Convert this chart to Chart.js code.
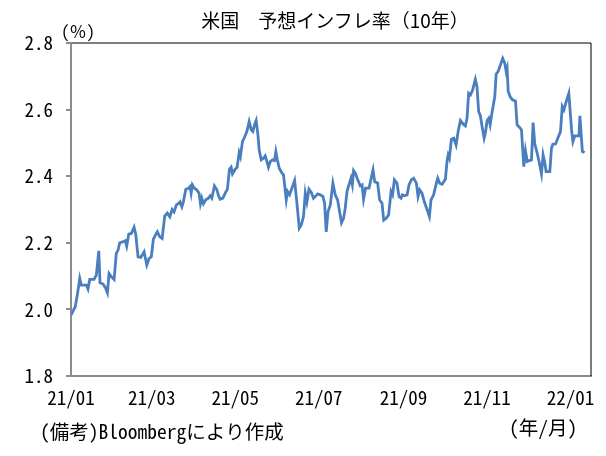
<!DOCTYPE html>
<html>
<head>
<meta charset="utf-8">
<script src="https://cdn.jsdelivr.net/npm/chart.js@4"></script>
<style>
  body { margin: 0; background: #fff; }
  #wrap { position: relative; width: 606px; height: 456px; }
  .lbl { position: absolute; white-space: nowrap; color: #000; line-height: 1; font-family: "Noto Sans Mono CJK JP", "Noto Sans CJK JP", monospace; }
  #title { left: 335px; top: 10px; transform: translateX(-50%); font-size: 19px; font-family: "Noto Sans CJK JP", sans-serif; }
  #unit { left: 61px; top: 22px; font-size: 17px; }
  #note { left: 40px; top: 421px; font-size: 19.5px; }
  #ym { left: 509px; top: 417px; font-size: 19.5px; }
</style>
</head>
<body>
<div id="wrap">
  <canvas id="myChart" width="606" height="456"></canvas>
  <div class="lbl" id="title">米国　予想インフレ率（10年）</div>
  <div class="lbl" id="unit">(％)</div>
  <div class="lbl" id="note">(備考)Bloombergにより作成</div>
  <div class="lbl" id="ym">(年/月)</div>
</div>
<script>
// 日数（2021/01/01からの経過日数）
const dias = [
  0, 3.1, 4.6, 6.4, 7.5, 11.2, 12.4, 13.7, 16.8, 18.5, 20.3, 21.2, 23.4, 25.1, 26.6, 27.8, 29.5, 31.5, 33.1, 34.4,
  35.6, 38.0, 39.7, 40.7, 42.2, 44.1, 46.1, 47.3, 49.0, 51.0, 53.4, 55.4, 57.1, 58.7, 60.2, 61.7, 63.1, 64.9, 66.6, 68.5,
  70.4, 72.2, 73.9, 75.3, 77.0, 78.3, 79.7, 81.0, 82.1, 83.9, 85.8, 87.0, 87.8, 88.7, 90.2, 91.9, 93.6, 94.6, 95.6, 96.8,
  98.5, 100.4, 101.7, 102.9, 104.8, 106.6, 107.8, 109.0, 111.0, 112.7, 114.3, 115.8, 117.0, 118.0, 120.0, 121.4, 122.9, 123.8, 125.3, 126.8,
  128.5, 130.2, 131.7, 132.9, 134.1, 135.3, 136.6, 137.5, 139.0, 140.7, 141.9, 143.2, 144.3, 145.6, 147.3, 148.7, 149.7, 150.7, 152.2, 154.1,
  155.3, 157.3, 158.2, 159.7, 161.4, 163.4, 165.1, 166.8, 168.3, 169.9, 171.2, 172.4, 173.9, 175.6, 177.2, 179.0, 180.2, 182.1, 184.1, 185.3,
  186.5, 187.8, 189.5, 191.4, 193.1, 194.8, 196.3, 197.7, 199.2, 200.4, 201.7, 203.1, 204.6, 205.6, 206.5, 207.8, 209.4, 211.4, 212.7, 213.8,
  215.3, 217.8, 219.2, 220.7, 221.9, 224.1, 225.5, 227.3, 228.5, 230.4, 232.1, 233.9, 235.0, 236.3, 238.2, 239.7, 241.2, 242.1, 243.6, 245.6,
  247.0, 248.7, 250.4, 252.4, 253.6, 254.8, 256.5, 258.2, 260.2, 261.9, 263.1, 265.0, 267.0, 268.0, 269.4, 271.2, 273.6, 274.9, 275.6, 276.5,
  278.0, 279.7, 281.4, 282.9, 284.6, 286.5, 288.2, 289.4, 290.6, 291.9, 293.5, 295.5, 296.7, 297.9, 299.2, 300.4, 301.9, 302.8, 304.1, 305.3,
  306.3, 307.8, 309.7, 310.7, 312.1, 313.8, 315.5, 317.0, 318.0, 318.7, 319.5, 321.1, 322.8, 324.8, 326.0, 327.7, 329.2, 330.9, 332.1, 333.4,
  335.0, 336.5, 337.7, 338.9, 340.7, 342.3, 343.8, 345.0, 346.2, 347.2, 349.9, 351.1, 352.1, 354.1, 356.0, 357.7, 359.0, 360.2, 361.4, 363.8,
  365.8, 366.8, 368.2, 371.2, 371.9, 373.7, 375.3
];
// 予想インフレ率（%）
const inflacion = [
  1.983, 2.008, 2.043, 2.093, 2.073, 2.073, 2.061, 2.090, 2.090, 2.103, 2.176, 2.080, 2.076, 2.066, 2.050, 2.108, 2.098, 2.090, 2.168, 2.178,
  2.200, 2.203, 2.206, 2.190, 2.226, 2.228, 2.247, 2.226, 2.158, 2.156, 2.173, 2.133, 2.153, 2.158, 2.211, 2.223, 2.233, 2.218, 2.213, 2.280,
  2.289, 2.278, 2.300, 2.293, 2.314, 2.317, 2.323, 2.308, 2.323, 2.361, 2.364, 2.369, 2.349, 2.374, 2.364, 2.359, 2.349, 2.317, 2.334, 2.317,
  2.329, 2.334, 2.341, 2.334, 2.371, 2.359, 2.341, 2.331, 2.334, 2.349, 2.361, 2.421, 2.427, 2.407, 2.421, 2.427, 2.471, 2.459, 2.504, 2.517,
  2.534, 2.564, 2.539, 2.534, 2.554, 2.567, 2.524, 2.479, 2.449, 2.454, 2.461, 2.444, 2.427, 2.444, 2.449, 2.447, 2.474, 2.451, 2.424, 2.410,
  2.404, 2.329, 2.354, 2.344, 2.364, 2.387, 2.319, 2.244, 2.254, 2.279, 2.349, 2.323, 2.361, 2.351, 2.334, 2.341, 2.347, 2.344, 2.339, 2.319,
  2.233, 2.293, 2.314, 2.379, 2.344, 2.329, 2.293, 2.260, 2.274, 2.304, 2.354, 2.374, 2.394, 2.374, 2.417, 2.409, 2.391, 2.371, 2.374, 2.331,
  2.364, 2.364, 2.391, 2.419, 2.384, 2.379, 2.329, 2.319, 2.268, 2.274, 2.284, 2.354, 2.344, 2.389, 2.379, 2.339, 2.334, 2.344, 2.341, 2.344,
  2.374, 2.389, 2.394, 2.379, 2.339, 2.359, 2.349, 2.323, 2.300, 2.279, 2.329, 2.344, 2.379, 2.394, 2.379, 2.376, 2.391, 2.449, 2.464, 2.454,
  2.511, 2.514, 2.494, 2.534, 2.567, 2.557, 2.551, 2.574, 2.649, 2.644, 2.659, 2.691, 2.669, 2.594, 2.581, 2.549, 2.514, 2.529, 2.567, 2.574,
  2.554, 2.594, 2.639, 2.707, 2.714, 2.734, 2.754, 2.739, 2.714, 2.724, 2.654, 2.637, 2.629, 2.626, 2.554, 2.547, 2.539, 2.429, 2.477, 2.444,
  2.447, 2.449, 2.561, 2.497, 2.469, 2.439, 2.407, 2.464, 2.441, 2.414, 2.414, 2.484, 2.496, 2.497, 2.517, 2.534, 2.609, 2.599, 2.617, 2.649,
  2.539, 2.504, 2.521, 2.521, 2.581, 2.474, 2.471
];
// 目盛り
const diasEtiqueta = [0, 59, 120, 181, 243, 304, 365];
const etiquetasX = ["21/01", "21/03", "21/05", "21/07", "21/09", "21/11", "22/01"];

const fuenteTick = { family: "'Noto Sans Mono CJK JP', 'DejaVu Sans Mono', monospace", size: 19 };

// 上と右の枠線
const marco = {
  id: "marco",
  afterDraw(chart) {
    const { ctx, chartArea } = chart;
    ctx.save();
    ctx.strokeStyle = "#7f7f7f";
    ctx.lineWidth = 2;
    ctx.beginPath();
    ctx.moveTo(chartArea.left, chartArea.top);
    ctx.lineTo(chartArea.right, chartArea.top);
    ctx.stroke();
    ctx.strokeStyle = "#222";
    ctx.lineWidth = 1.2;
    ctx.beginPath();
    ctx.moveTo(chartArea.right, chartArea.top);
    ctx.lineTo(chartArea.right, chartArea.bottom);
    ctx.stroke();
    ctx.restore();
  }
};

const datos = dias.map((d, i) => ({ x: d, y: inflacion[i] }));

const config = {
  type: "line",
  data: {
    datasets: [{
      label: "予想インフレ率",
      data: datos,
      borderColor: "rgb(74, 126, 190)",
      borderWidth: 2.8,
      pointRadius: 0,
      tension: 0,
      fill: false
    }]
  },
  options: {
    responsive: false,
    animation: false,
    layout: { padding: { top: 43, right: 15, left: 0, bottom: 0 } },
    plugins: { legend: { display: false }, tooltip: { enabled: false } },
    scales: {
      x: {
        type: "linear",
        min: 0,
        max: 380,
        afterBuildTicks: (scale) => { scale.ticks = diasEtiqueta.map(v => ({ value: v })); },
        afterFit: (scale) => { scale.height = 80; },
        grid: { display: false },
        border: { color: "#8c8c8c", width: 2 },
        ticks: {
          autoSkip: false,
          maxRotation: 0,
          padding: 2,
          color: "#000",
          font: fuenteTick,
          callback: (v, i) => etiquetasX[i]
        }
      },
      y: {
        min: 1.8,
        max: 2.8,
        afterFit: (scale) => { scale.width = 71; },
        grid: { drawOnChartArea: false, drawTicks: true, tickLength: 5, color: "#8c8c8c", lineWidth: 2 },
        border: { color: "#8c8c8c", width: 2 },
        ticks: {
          stepSize: 0.2,
          padding: 13,
          color: "#000",
          font: fuenteTick,
          callback: (v) => v.toFixed(1)
        }
      }
    }
  },
  plugins: [marco]
};

const myChart = document.getElementById("myChart");
new Chart(myChart, config);
</script>
</body>
</html>
